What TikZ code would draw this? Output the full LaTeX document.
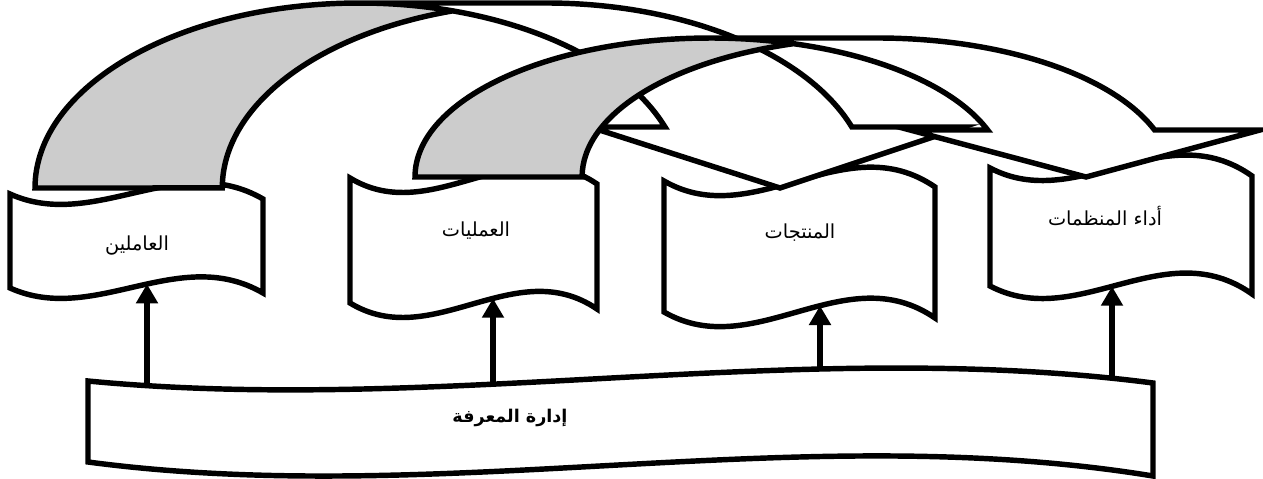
\documentclass[tikz,border=0pt]{standalone}
\usepackage{fontspec}
\usetikzlibrary{arrows.meta}
\newfontfamily\arabicfont[Script=Arabic]{DejaVu Sans}
\TeXXeTstate=1
\definecolor{backgray}{RGB}{204,204,204}
% wavy box: L, Ytop, W, H, k1, k2, e
\newcommand\wavebox[7]{%
  \draw[boxline] (#1,#2) .. controls ({#1+#3/3},{#2+#5}) and ({#1+2*#3/3},{#2+#6}) .. ({#1+#3},{#2+#7})
    -- ({#1+#3},{#2+#7+#4}) .. controls ({#1+2*#3/3},{#2+#4+#6}) and ({#1+#3/3},{#2+#4+#5}) .. (#1,{#2+#4}) -- cycle;}
\begin{document}
\begin{tikzpicture}[x=0.02cm, y=-0.02cm,
  line join=miter,
  boxline/.style={line width=3.1pt, fill=white},
  arcline/.style={line width=3.1pt},
  ea/.style={x radius=6.48cm, y radius=3.7cm},
  eb/.style={x radius=5.9cm, y radius=2.78cm},
  uparrow/.style={line width=2.9pt, -{Triangle[width=12pt,length=11pt]}},
  lbl/.style={font=\arabicfont\fontsize{11}{13}\selectfont, inner sep=0pt},
  declare function={wv(\wt,\wa,\wb,\we)=3*\wt*(1-\wt)^2*\wa+3*\wt^2*(1-\wt)*\wb+\wt^3*\we;}]
\useasboundingbox (0,0) rectangle (1263,479);

% boxes
\wavebox{10}{194}{253}{94}{38}{-44}{5}
\wavebox{350}{178}{247}{125}{50}{-50}{6}
\wavebox{664}{181}{271}{131}{52}{-56}{6}
\wavebox{990}{168}{262}{118}{46}{-54}{8}
% knowledge management box
\draw[boxline] (88,381) .. controls (443,415) and (798,337) .. (1153,383)
  -- (1153,476) .. controls (798,418) and (443,509) .. (88,462) -- cycle;

% labels
\node[lbl] (n1) at (137,246) {\beginR العاملين\endR};
\node[lbl] (n2) at (476,231) {\beginR العمليات\endR};
\node[lbl] (n3) at (800,233) {\beginR المنتجات\endR};
\node[lbl] (n4) at (1105,216) {\beginR أداء المنظمات\endR};
\node[lbl, font=\arabicfont\bfseries\fontsize{10}{12}\selectfont] (km) at (510,418) {\beginR إدارة المعرفة\endR};

% curved arrow 1 (from first box to third box)
\fill[white] (546,3) arc[ea, start angle=90, end angle=19.25] -- (963,127) -- (780,188) -- (590,127) -- (665,127)
  arc[ea, start angle=19.25, end angle=90] -- cycle;
\fill[backgray] (35,188) arc[ea, start angle=180, end angle=73.2] arc[ea, start angle=106.8, end angle=180] -- cycle;
\draw[arcline] (452.6,10.9) arc[ea, start angle=106.8, end angle=180] -- (35,188)
  arc[ea, start angle=180, end angle=90] -- (546,3) arc[ea, start angle=90, end angle=19.25]
  -- (963,127) -- (780,188) -- (590,127) -- (665,127) arc[ea, start angle=19.25, end angle=90];

% curved arrow 2 (from second box to fourth box)
\fill[white] (877,38) arc[eb, start angle=90, end angle=19.76] -- (1260,130) -- (1086,177) -- (910,130) -- (987.6,130)
  arc[eb, start angle=19.76, end angle=90] -- cycle;
\fill[backgray] (415,177) arc[eb, start angle=180, end angle=73.55] arc[eb, start angle=106.45, end angle=180] -- cycle;
\draw[arcline] (793.5,43.7) arc[eb, start angle=106.45, end angle=180] -- (415,177)
  arc[eb, start angle=180, end angle=90] -- (877,38) arc[eb, start angle=90, end angle=19.76]
  -- (1260,130) -- (1086,177) -- (910,130) -- (987.6,130) arc[eb, start angle=19.76, end angle=90];

% up arrows from the knowledge management box
\coordinate (s1) at (147,{381+wv((147-88)/1065,34,-44,2)});
\coordinate (s2) at (493,{381+wv((493-88)/1065,34,-44,2)});
\coordinate (s3) at (820,{381+wv((820-88)/1065,34,-44,2)});
\coordinate (s4) at (1112,{381+wv((1112-88)/1065,34,-44,2)});
\coordinate (e1) at (147,{288+wv((147-10)/253,38,-44,5)});
\coordinate (e2) at (493,{303+wv((493-350)/247,50,-50,6)});
\coordinate (e3) at (820,{312+wv((820-664)/271,52,-56,6)});
\coordinate (e4) at (1112,{286+wv((1112-990)/262,46,-54,8)});
\draw[uparrow] (s1) -- (e1);
\draw[uparrow] (s2) -- (e2);
\draw[uparrow] (s3) -- (e3);
\draw[uparrow] (s4) -- (e4);
\end{tikzpicture}
\end{document}
